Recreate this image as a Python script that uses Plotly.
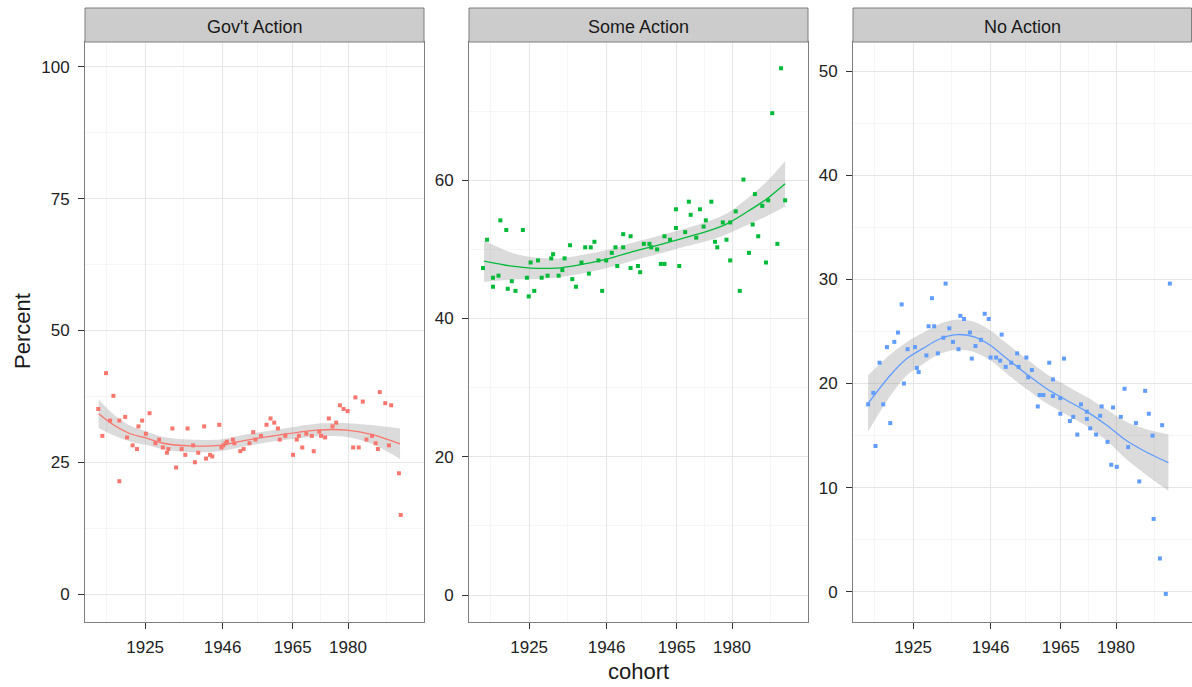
import plotly.graph_objects as go

W, H = 1192, 687

panels = ["Gov't Action", "Some Action", "No Action"]
colors = ["#F8766D", "#00BA38", "#619CFF"]

# ---- Gov't Action points
cohort_gov = [1912.3, 1914.4, 1913.4, 1916.4, 1915.5, 1918.0, 1918.0, 1919.6, 1920.1, 1921.6,
              1922.8, 1923.2, 1924.2, 1926.2, 1925.2, 1927.8, 1928.8, 1929.8, 1930.9, 1931.3,
              1932.4, 1933.4, 1934.9, 1935.9, 1936.5, 1938.0, 1938.5, 1939.4, 1941.0, 1941.5,
              1942.6, 1943.2, 1945.1, 1945.7, 1946.2, 1947.2, 1946.8, 1948.8, 1949.2, 1950.8,
              1951.7, 1953.3, 1954.3, 1954.9, 1956.4, 1957.9, 1959.0, 1960.0, 1961.0, 1961.5,
              1963.0, 1965.1, 1966.1, 1966.7, 1967.6, 1968.7, 1970.2, 1970.7, 1972.2, 1972.7,
              1973.8, 1974.8, 1975.8, 1976.8, 1977.8, 1978.8, 1979.9, 1981.4, 1982.0, 1982.9,
              1984.0, 1985.0, 1986.5, 1987.5, 1988.1, 1988.6, 1990.1, 1991.1, 1991.7, 1993.8,
              1994.3]
pct_gov = [35.1, 41.9, 30.0, 37.6, 32.9, 21.4, 32.9, 33.6, 29.7, 28.2,
           27.5, 31.8, 32.9, 34.3, 30.4, 28.6, 29.3, 27.8, 26.8, 27.5,
           31.4, 24.0, 27.5, 26.4, 31.4, 28.2, 25.0, 26.8, 31.8, 25.7,
           26.4, 26.1, 32.1, 27.8, 28.2, 28.9, 28.6, 29.3, 28.6, 27.1,
           27.5, 28.6, 30.7, 29.3, 30.0, 32.1, 33.3, 32.5, 31.4, 29.3,
           30.0, 26.4, 29.3, 30.0, 27.8, 30.4, 30.0, 27.1, 30.8, 30.0,
           29.7, 33.3, 31.8, 32.5, 35.8, 35.1, 34.7, 27.8, 37.3, 27.8,
           36.5, 29.3, 30.0, 28.6, 27.5, 38.3, 36.2, 28.2, 35.8, 22.9,
           15.0]

# ---- Some Action points
cohort_some = [1912.5, 1913.6, 1915.2, 1915.2, 1916.7, 1917.2, 1918.8, 1919.2, 1920.3, 1921.3,
               1923.3, 1924.4, 1924.9, 1925.4, 1926.4, 1927.4, 1928.4, 1930.0, 1931.0, 1931.5,
               1933.0, 1934.0, 1934.6, 1936.1, 1936.7, 1937.7, 1939.2, 1940.2, 1941.2, 1941.7,
               1942.7, 1943.8, 1944.8, 1945.9, 1947.4, 1948.4, 1948.9, 1950.5, 1950.5, 1952.5,
               1952.5, 1954.5, 1955.1, 1956.1, 1957.6, 1958.1, 1959.7, 1960.7, 1961.7, 1961.7,
               1963.2, 1964.8, 1964.8, 1965.7, 1967.3, 1968.3, 1968.8, 1970.3, 1971.3, 1972.3,
               1972.9, 1974.4, 1975.4, 1976.0, 1977.5, 1978.5, 1979.5, 1979.5, 1981.0, 1982.1,
               1983.1, 1984.6, 1985.6, 1986.2, 1987.1, 1988.2, 1989.2, 1989.8, 1992.3, 1994.4,
               1993.3, 1990.9]
pct_some = [47.3, 51.4, 45.9, 44.6, 46.2, 54.2, 52.8, 44.3, 45.4, 44.0,
            52.8, 45.9, 43.2, 48.1, 44.0, 48.4, 45.9, 46.2, 48.7, 49.3,
            46.2, 47.0, 48.7, 50.6, 45.7, 44.6, 48.1, 50.3, 46.5, 50.3,
            51.1, 48.4, 44.0, 48.4, 49.5, 50.3, 47.6, 52.2, 50.3, 51.9,
            47.3, 47.6, 46.7, 50.8, 50.8, 50.3, 50.0, 47.9, 47.9, 51.9,
            51.4, 55.8, 53.1, 47.6, 52.5, 56.9, 55.0, 51.7, 55.8, 53.3,
            54.2, 56.9, 51.1, 50.3, 53.9, 51.4, 48.4, 53.9, 55.5, 44.0,
            60.1, 49.5, 53.6, 58.0, 51.9, 56.3, 48.1, 57.1, 50.8, 57.1,
            76.2, 69.7]

# ---- No Action points
cohort_no = [1912.8, 1914.2, 1914.8, 1915.9, 1916.9, 1917.9, 1918.8, 1919.9, 1920.9, 1921.9,
             1922.5, 1923.5, 1925.5, 1926.0, 1926.5, 1928.6, 1929.2, 1930.1, 1930.7, 1931.7,
             1933.2, 1933.8, 1934.8, 1935.8, 1937.3, 1937.8, 1938.8, 1940.4, 1940.9, 1941.9,
             1943.4, 1944.4, 1945.5, 1946.0, 1947.5, 1948.6, 1949.0, 1950.1, 1951.6, 1953.2,
             1953.6, 1955.7, 1956.2, 1957.2, 1958.8, 1959.3, 1960.3, 1961.9, 1962.9, 1962.9,
             1964.9, 1964.9, 1965.9, 1967.5, 1968.4, 1969.5, 1970.5, 1972.1, 1972.1, 1973.0,
             1974.6, 1975.7, 1976.1, 1977.7, 1978.7, 1979.2, 1980.2, 1981.3, 1982.3, 1983.3,
             1985.4, 1986.3, 1987.9, 1988.9, 1989.9, 1992.5, 1994.6, 1990.2, 1991.9, 1993.5]
pct_no = [18.0, 19.1, 14.0, 22.0, 18.0, 23.5, 16.2, 24.0, 24.9, 27.6,
          20.0, 23.3, 23.5, 21.5, 21.1, 22.7, 25.5, 28.2, 25.5, 22.9,
          24.4, 29.6, 25.3, 24.0, 23.3, 26.5, 26.2, 24.9, 22.4, 23.6,
          24.2, 26.7, 26.2, 22.5, 22.5, 22.2, 24.7, 21.6, 22.0, 22.9,
          21.6, 22.5, 20.6, 21.3, 17.8, 18.9, 18.9, 22.0, 20.4, 18.8,
          18.6, 17.1, 22.4, 16.4, 16.8, 15.1, 18.0, 17.3, 16.6, 15.7,
          15.1, 16.9, 17.8, 14.4, 12.2, 17.7, 12.0, 16.8, 19.5, 13.9,
          16.2, 10.6, 19.3, 17.1, 15.0, 16.0, 29.6, 7.0, 3.2, -0.2]

# ---- loess smooths: x, fit, half-width of band
smooth_x_gov = [1912.4, 1916.4, 1921.0, 1925.2, 1930.0, 1937.2, 1945.3, 1952.6, 1961.6, 1971.5, 1979.7, 1986.9, 1994.1]
smooth_y_gov = [34.2, 32.1, 30.4, 29.6, 28.6, 28.1, 28.2, 29.2, 30.2, 31.1, 31.1, 30.2, 28.5]
smooth_se_gov = [2.7, 2.0, 1.5, 1.3, 1.2, 1.2, 1.1, 1.1, 1.1, 1.2, 1.3, 1.8, 2.9]

smooth_x_some = [1912.8, 1919.9, 1925.3, 1932.5, 1937.9, 1946.1, 1953.3, 1960.5, 1965.9, 1973.2, 1978.6, 1984.0, 1989.4, 1994.4]
smooth_y_some = [48.3, 47.6, 47.3, 47.3, 47.7, 48.6, 49.7, 50.7, 51.5, 52.6, 53.7, 55.4, 57.3, 59.5]
smooth_se_some = [3.0, 2.0, 1.6, 1.4, 1.35, 1.3, 1.3, 1.3, 1.3, 1.4, 1.5, 1.9, 2.5, 3.3]

smooth_x_no = [1912.8, 1918.8, 1923.3, 1927.8, 1932.3, 1936.8, 1941.3, 1945.8, 1950.4, 1955.8, 1961.2, 1966.6, 1972.1, 1977.5, 1982.9, 1988.3, 1994.2]
smooth_y_no = [18.1, 20.8, 22.4, 23.4, 24.3, 24.7, 24.5, 23.7, 22.4, 20.9, 19.5, 18.4, 17.3, 16.0, 14.5, 13.4, 12.4]
smooth_se_no = [2.7, 2.0, 1.6, 1.5, 1.45, 1.45, 1.45, 1.45, 1.45, 1.45, 1.4, 1.4, 1.4, 1.5, 1.8, 2.2, 2.7]

x_ticks = [1925, 1946, 1965, 1980]
x_minor = [1914.5, 1935.5, 1955.5, 1972.5, 1990.5]
y_ticks = [[0, 25, 50, 75, 100], [0, 20, 40, 60], [0, 10, 20, 30, 40, 50]]
y_minor = [[12.5, 37.5, 62.5, 87.5], [10, 30, 50, 70], [5, 15, 25, 35, 45]]
y_ranges = [[-5.3, 104.7], [-3.9, 80.0], [-2.9, 52.8]]
x_range = [1908.7, 2000.6]

points = [(cohort_gov, pct_gov), (cohort_some, pct_some), (cohort_no, pct_no)]
smooths = [(smooth_x_gov, smooth_y_gov, smooth_se_gov),
           (smooth_x_some, smooth_y_some, smooth_se_some),
           (smooth_x_no, smooth_y_no, smooth_se_no)]

FONT = "Liberation Sans, Arial, sans-serif"

# pixel layout
px_left = [85, 469, 853]
px_right = [424, 808, 1192]
plot_top, plot_bottom, strip_top = 42, 622, 8

def fx(p):
    return p / W

def fy(p):
    return (H - p) / H

fig = go.Figure()
for i in range(3):
    xa = "x" if i == 0 else f"x{i+1}"
    ya = "y" if i == 0 else f"y{i+1}"
    sx, sy, se = smooths[i]
    upper = [a + b for a, b in zip(sy, se)]
    lower = [a - b for a, b in zip(sy, se)]
    fig.add_trace(go.Scatter(x=list(sx), y=lower, mode="lines", line=dict(width=0, shape="spline", smoothing=0.8),
                             xaxis=xa, yaxis=ya, showlegend=False, hoverinfo="skip"))
    fig.add_trace(go.Scatter(x=list(sx), y=upper, mode="lines", line=dict(width=0, shape="spline", smoothing=0.8),
                             fill="tonexty", fillcolor="rgba(153,153,153,0.35)",
                             xaxis=xa, yaxis=ya, showlegend=False, hoverinfo="skip"))
    px_, py_ = points[i]
    fig.add_trace(go.Scatter(x=px_, y=py_, mode="markers",
                             marker=dict(color=colors[i], size=4, symbol="square", line=dict(width=0)),
                             xaxis=xa, yaxis=ya, showlegend=False))
    fig.add_trace(go.Scatter(x=list(sx), y=list(sy), mode="lines",
                             line=dict(color=colors[i], width=1.3, shape="spline", smoothing=0.8),
                             xaxis=xa, yaxis=ya, showlegend=False))

axis_common = dict(showline=True, mirror=True, linecolor="#7f7f7f", linewidth=1,
                   ticks="outside", ticklen=6, tickcolor="#333333", tickwidth=1,
                   showgrid=True, gridcolor="#e5e5e5", gridwidth=1.3, zeroline=False,
                   tickfont=dict(family=FONT, size=17, color="#222222"))

layout = dict(width=W, height=H, margin=dict(l=0, r=0, t=0, b=0),
              plot_bgcolor="white", paper_bgcolor="white", showlegend=False)
for i in range(3):
    xk = "xaxis" if i == 0 else f"xaxis{i+1}"
    yk = "yaxis" if i == 0 else f"yaxis{i+1}"
    ya = "y" if i == 0 else f"y{i+1}"
    xa = "x" if i == 0 else f"x{i+1}"
    layout[xk] = dict(axis_common, domain=[fx(px_left[i]), fx(px_right[i])], range=x_range,
                      tickmode="array", tickvals=x_ticks, ticktext=[str(t) for t in x_ticks],
                      anchor=ya, ticklabelstandoff=4,
                      minor=dict(tickmode="array", tickvals=x_minor, showgrid=True,
                                 gridcolor="#f5f5f5", gridwidth=1, ticks=""))
    layout[yk] = dict(axis_common, domain=[fy(plot_bottom), fy(plot_top)], range=y_ranges[i],
                      tickmode="array", tickvals=y_ticks[i], ticktext=[str(t) for t in y_ticks[i]],
                      anchor=xa, ticklabelstandoff=5,
                      minor=dict(tickmode="array", tickvals=y_minor[i], showgrid=True,
                                 gridcolor="#f5f5f5", gridwidth=1, ticks=""))

shapes = []
annotations = []
for i in range(3):
    shapes.append(dict(type="rect", xref="paper", yref="paper",
                       x0=fx(px_left[i]), x1=fx(min(px_right[i], W - 0.5)),
                       y0=fy(plot_top), y1=fy(strip_top),
                       fillcolor="#cccccc", line=dict(color="#7f7f7f", width=1), layer="above"))
    annotations.append(dict(text=panels[i], xref="paper", yref="paper",
                            x=fx((px_left[i] + px_right[i]) / 2), y=fy(27),
                            showarrow=False, xanchor="center", yanchor="middle",
                            font=dict(family=FONT, size=18, color="#1a1a1a")))
annotations.append(dict(text="Percent", xref="paper", yref="paper", x=fx(22), y=fy(331),
                        showarrow=False, textangle=-90, xanchor="center", yanchor="middle",
                        font=dict(family=FONT, size=22, color="#1a1a1a")))
annotations.append(dict(text="cohort", xref="paper", yref="paper", x=fx(638), y=fy(671),
                        showarrow=False, xanchor="center", yanchor="middle",
                        font=dict(family=FONT, size=22, color="#1a1a1a")))
layout["shapes"] = shapes
layout["annotations"] = annotations
fig.update_layout(**layout)
fig.write_html("out.html")
